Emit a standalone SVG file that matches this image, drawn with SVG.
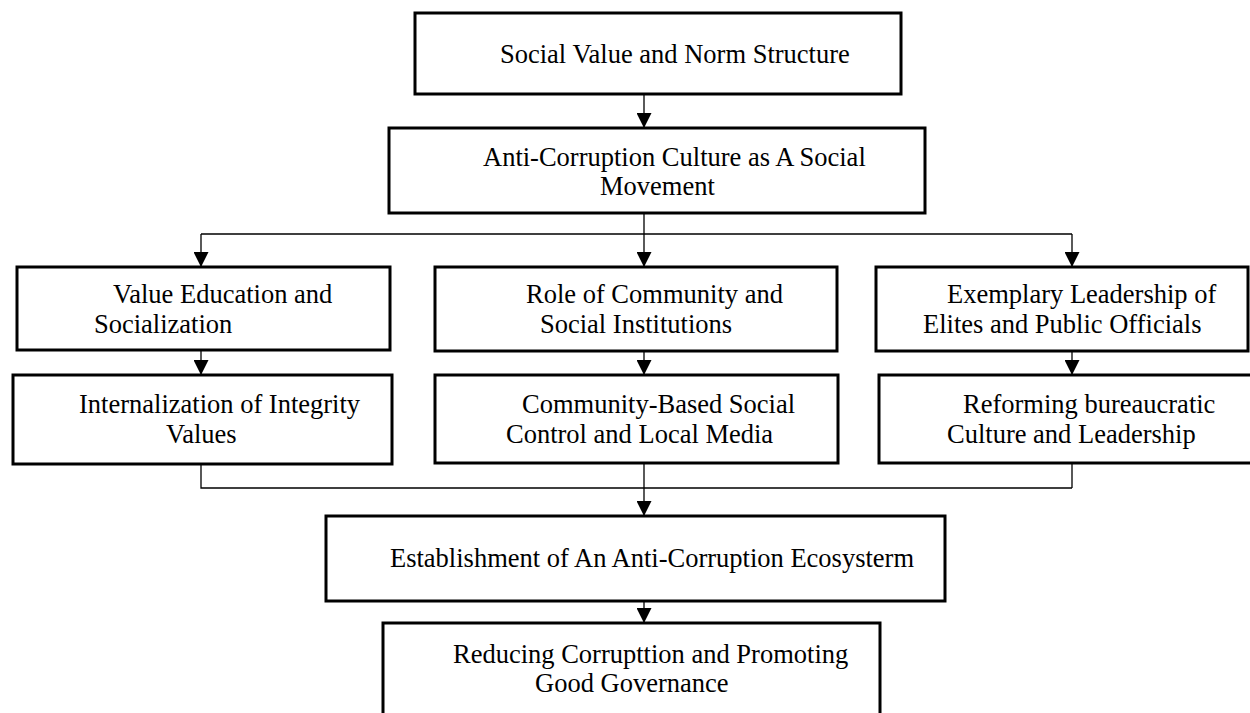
<svg xmlns="http://www.w3.org/2000/svg" width="1250" height="713" viewBox="0 0 1250 713">
  <style>
    .box { fill: #ffffff; stroke: #000000; stroke-width: 3; }
    .lbl { font-family: "Liberation Serif", "Times New Roman", serif; font-size: 26.5px; fill: #000000; }
    .wire { fill: none; stroke: #000000; stroke-width: 1.3; }
  </style>
  <defs>
    <marker id="arrow" markerUnits="userSpaceOnUse" markerWidth="15" markerHeight="15" viewBox="0 0 15 15" refX="15" refY="7.5" orient="auto">
      <path d="M0,0 L15,7.5 L0,15 Z" fill="#000000"/>
    </marker>
  </defs>
  <rect width="1250" height="713" fill="#ffffff"/>

  <!-- connectors -->
  <g id="connectors">
    <path class="wire" d="M644,94 V128" marker-end="url(#arrow)"/>
    <path class="wire" d="M644,213 V234 M201,234 H1072"/>
    <path class="wire" d="M201,234 V267" marker-end="url(#arrow)"/>
    <path class="wire" d="M644,234 V267" marker-end="url(#arrow)"/>
    <path class="wire" d="M1072,234 V267" marker-end="url(#arrow)"/>
    <path class="wire" d="M201,350 V375" marker-end="url(#arrow)"/>
    <path class="wire" d="M644,351 V375" marker-end="url(#arrow)"/>
    <path class="wire" d="M1072,351 V375" marker-end="url(#arrow)"/>
    <path class="wire" d="M201,464 V488 H1072 M1072,463 V488"/>
    <path class="wire" d="M644,463 V516" marker-end="url(#arrow)"/>
    <path class="wire" d="M644,601 V623" marker-end="url(#arrow)"/>
  </g>

  <!-- nodes -->
  <g id="social-value">
    <rect class="box" x="415" y="13" width="486" height="81"/>
    <text class="lbl" x="500" y="63">Social Value and Norm Structure</text>
  </g>
  <g id="anti-corruption-culture">
    <rect class="box" x="389" y="128" width="536" height="85"/>
    <text class="lbl" x="483" y="166">Anti-Corruption Culture as A Social</text>
    <text class="lbl" x="600" y="195">Movement</text>
  </g>
  <g id="value-education">
    <rect class="box" x="17" y="267" width="373" height="83"/>
    <text class="lbl" x="113" y="303">Value Education and</text>
    <text class="lbl" x="94" y="333">Socialization</text>
  </g>
  <g id="internalization">
    <rect class="box" x="13" y="375" width="379" height="89"/>
    <text class="lbl" x="79" y="413">Internalization of Integrity</text>
    <text class="lbl" x="166" y="443">Values</text>
  </g>
  <g id="role-of-community">
    <rect class="box" x="435" y="267" width="402" height="84"/>
    <text class="lbl" x="526" y="303">Role of Community and</text>
    <text class="lbl" x="540" y="333">Social Institutions</text>
  </g>
  <g id="community-control">
    <rect class="box" x="435" y="375" width="403" height="88"/>
    <text class="lbl" x="522" y="413">Community-Based Social</text>
    <text class="lbl" x="506" y="443">Control and Local Media</text>
  </g>
  <g id="exemplary-leadership">
    <rect class="box" x="876" y="267" width="372" height="84"/>
    <text class="lbl" x="947" y="303">Exemplary Leadership of</text>
    <text class="lbl" x="923" y="333">Elites and Public Officials</text>
  </g>
  <g id="reforming-bureaucratic">
    <rect class="box" x="879" y="375" width="380" height="88"/>
    <text class="lbl" x="963" y="413">Reforming bureaucratic</text>
    <text class="lbl" x="947" y="443">Culture and Leadership</text>
  </g>
  <g id="ecosystem">
    <rect class="box" x="326" y="516" width="619" height="85"/>
    <text class="lbl" x="390" y="567">Establishment of An Anti-Corruption Ecosysterm</text>
  </g>
  <g id="good-governance">
    <rect class="box" x="383" y="623" width="497" height="100"/>
    <text class="lbl" x="453" y="663">Reducing Corrupttion and Promoting</text>
    <text class="lbl" x="535" y="692">Good Governance</text>
  </g>
</svg>
